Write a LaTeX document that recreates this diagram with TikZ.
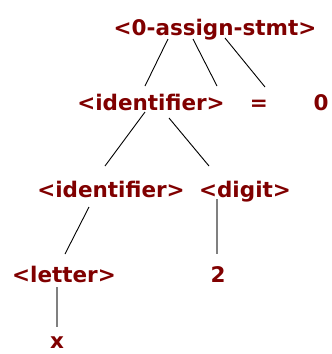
\documentclass[tikz,border=0pt]{standalone}
\usepackage{fontspec}
\setmainfont{DejaVu Sans}
\definecolor{maroon}{RGB}{128,0,0}
\definecolor{stemgray}{RGB}{128,128,128}
\tikzset{
  lbl/.style={text=maroon, font=\bfseries\fontsize{21.5}{24}\selectfont, inner sep=0pt, anchor=base},
  edge/.style={draw=black, line width=0.9pt},
  stem/.style={draw=stemgray, line width=2pt}
}
\begin{document}
\begin{tikzpicture}[x=1pt,y=-1pt]
\useasboundingbox (0,0) rectangle (332,354);
\node[lbl] (root) at (215,35) {<0-assign-stmt>};
\node[lbl] (id1) at (151,110) {<identifier>};
\node[lbl] (eq) at (259,110) {=};
\node[lbl] (zero) at (321,110) {0};
\node[lbl] (id2) at (111,197) {<identifier>};
\node[lbl] (dig) at (245,197) {<digit>};
\node[lbl] (let) at (64,282) {<letter>};
\node[lbl] (two) at (218,282) {2};
\node[lbl] (x) at (57,348) {x};
% connectors
\coordinate (r1) at (168,39);  \coordinate (c1) at (145,86);
\coordinate (r2) at (193,39);  \coordinate (c2) at (217,86);
\coordinate (r3) at (225,38);  \coordinate (c3) at (265,87);
\coordinate (i1a) at (145,112); \coordinate (i2t) at (105,166);
\coordinate (i1b) at (169,118); \coordinate (dt) at (209,166);
\coordinate (i2b) at (89,207); \coordinate (lt) at (65,254);
\coordinate (db) at (217,199); \coordinate (tt) at (217,254);
\coordinate (lb) at (57,287); \coordinate (xt) at (57,327);
\draw[edge] (r1) -- (c1);
\draw[edge] (r2) -- (c2);
\draw[edge] (r3) -- (c3);
\draw[edge] (i1a) -- (i2t);
\draw[edge] (i1b) -- (dt);
\draw[edge] (i2b) -- (lt);
\draw[stem] (db) -- (tt);
\draw[stem] (lb) -- (xt);
\end{tikzpicture}
\end{document}
